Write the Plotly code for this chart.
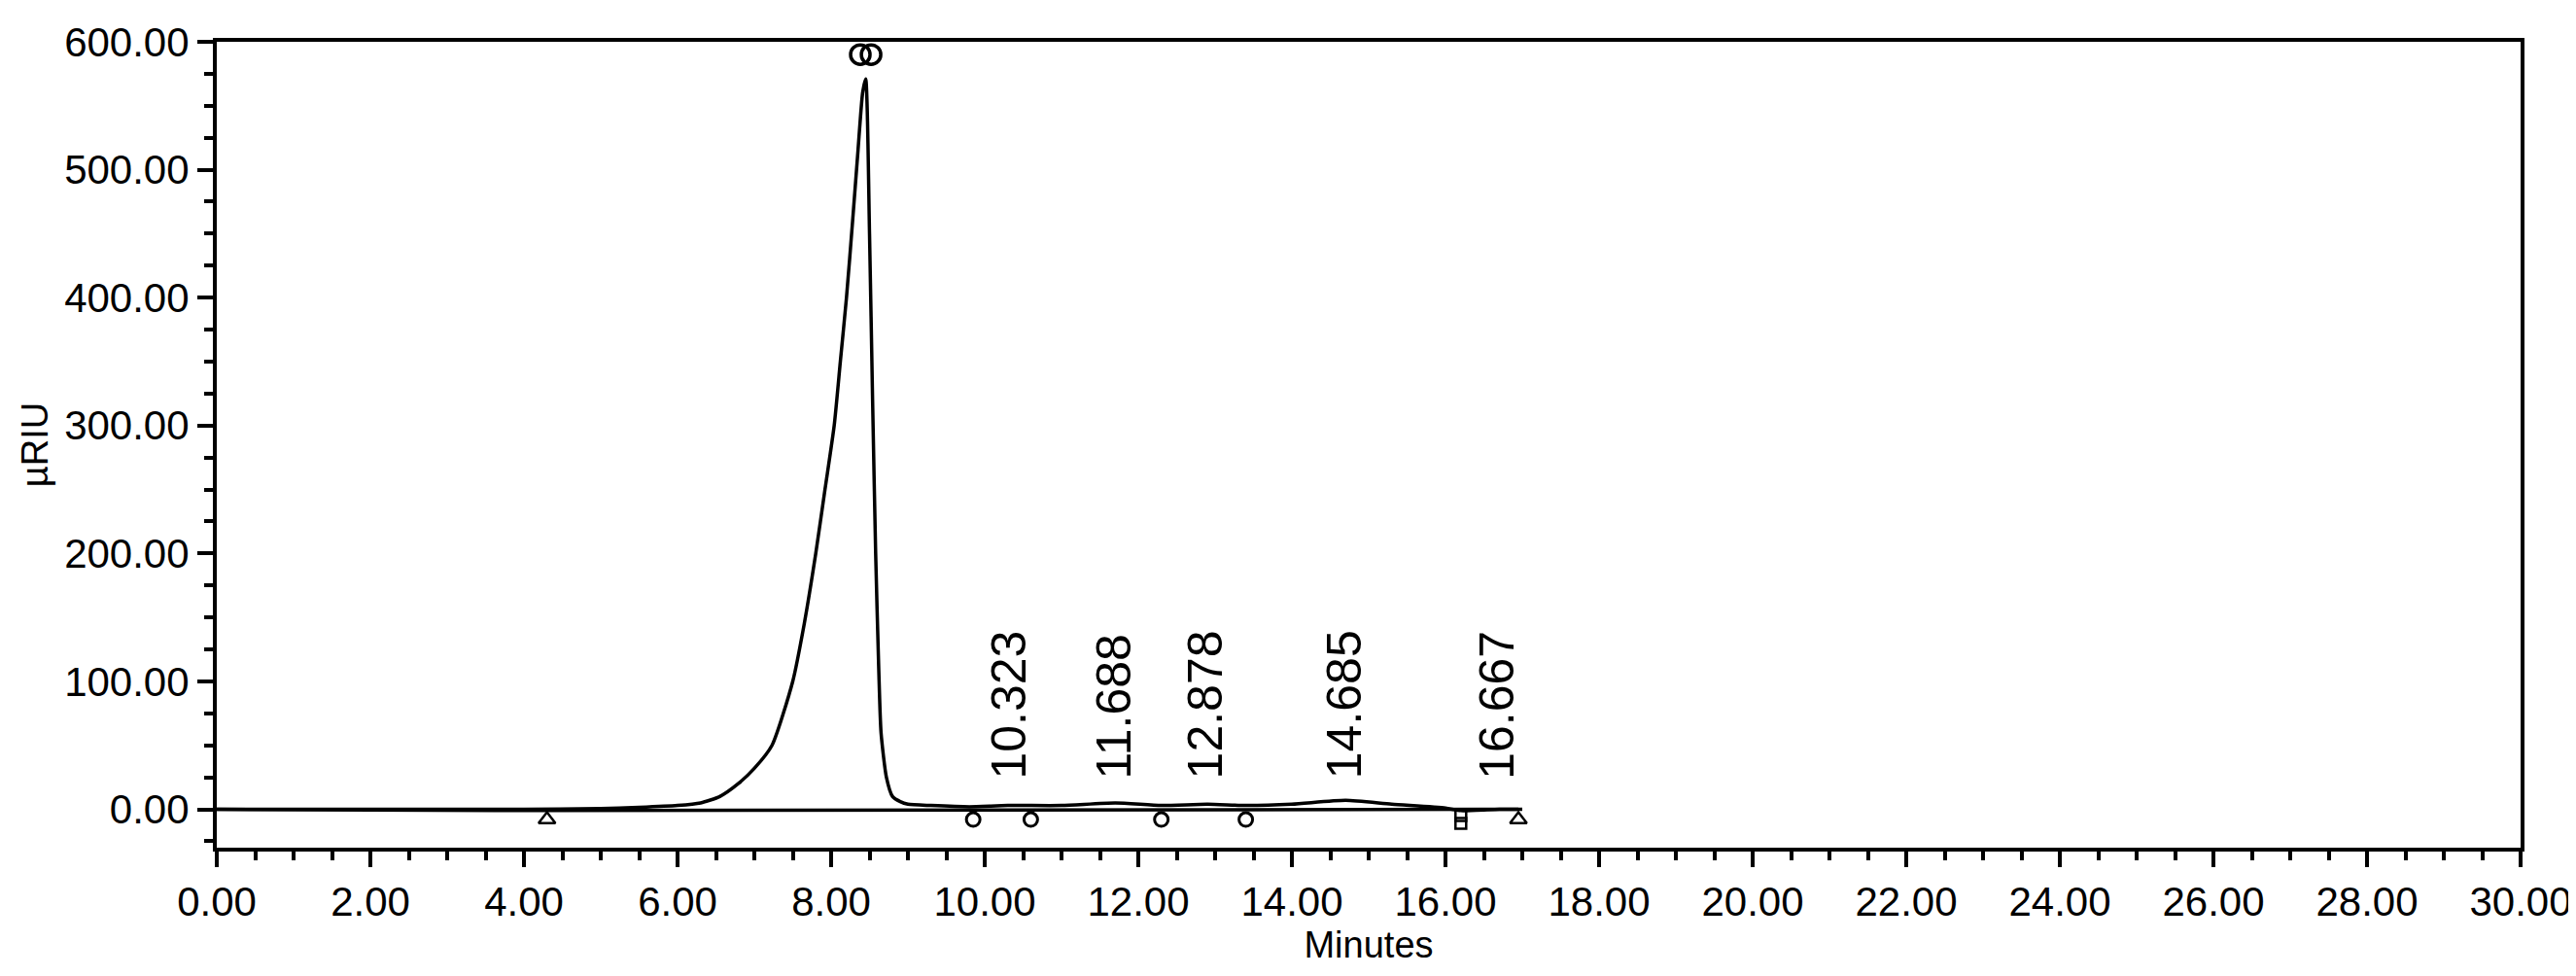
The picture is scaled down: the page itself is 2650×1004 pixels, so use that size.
import plotly.graph_objects as go

time_min = [0, 2, 4, 5.0, 5.5, 6.0, 6.3, 6.55, 6.79, 7.0, 7.23, 7.5, 7.65, 7.8, 7.92, 8.04, 8.12, 8.2, 8.28,
            8.35, 8.41, 8.45, 8.5, 8.54, 8.58, 8.62, 8.65, 8.72, 8.8, 8.9, 9.0, 9.3, 9.8, 10.3, 11.0, 11.7,
            12.3, 12.9, 13.4, 14.0, 14.7, 15.3, 16.0, 16.2, 16.7, 17.0]
signal = [0, 0, 0, 0.5, 1.5, 3, 5, 10, 20, 32, 50, 100, 145, 200, 250, 300, 350, 400, 460,
          515, 560, 571, 450, 320, 200, 110, 60, 25, 10, 6, 4, 3, 2, 3, 3, 5,
          3, 4, 3, 4, 7, 4, 1, -1, 0, 0]

base_x = [0, 4.3, 16.95]
base_y = [0, -1, 0]

peak_labels = ["10.323", "11.688", "12.878", "14.685", "16.667"]
peak_times = [10.323, 11.688, 12.878, 14.685, 16.667]
label_y = [22, 22, 22, 22, 22]

tri_x = [4.3, 16.95]; tri_y = [-8, -8]
apex_x = [8.38, 8.52]; apex_y = [590, 590]
mark_x = [9.85, 10.6, 12.3, 13.4]; mark_y = [-8, -8, -8, -8]
sq_x = [16.2, 16.2]; sq_y = [-5, -11]

fig = go.Figure()
fig.add_trace(go.Scatter(x=time_min, y=signal, mode="lines", line=dict(color="black", width=3.5, shape="spline", smoothing=0.6)))
fig.add_trace(go.Scatter(x=base_x, y=base_y, mode="lines", line=dict(color="black", width=3.5)))
fig.add_trace(go.Scatter(x=tri_x, y=tri_y, mode="markers",
                         marker=dict(symbol="triangle-up-open", size=15, color="black", line=dict(width=2.5))))
fig.add_trace(go.Scatter(x=apex_x, y=apex_y, mode="markers",
                         marker=dict(symbol="circle-open", size=20, color="black", line=dict(width=3.5))))
fig.add_trace(go.Scatter(x=mark_x, y=mark_y, mode="markers",
                         marker=dict(symbol="circle-open", size=14, color="black", line=dict(width=3))))
fig.add_trace(go.Scatter(x=sq_x, y=sq_y, mode="markers",
                         marker=dict(symbol="square-open", size=11, color="black", line=dict(width=2.5))))

for t, lab, yy in zip(peak_times, peak_labels, label_y):
    fig.add_annotation(x=t, y=yy, text=lab, textangle=-90, showarrow=False,
                       yanchor="bottom", xanchor="center", font=dict(size=50, color="black"))

axis_common = dict(showgrid=False, zeroline=False, showline=True, linecolor="black", linewidth=4,
                   mirror=True, ticks="outside", tickcolor="black", tickwidth=3.5, ticklen=16,
                   tickfont=dict(family="Liberation Sans, Arial", size=42, color="black"))
fig.update_xaxes(range=[0, 30], tickvals=list(range(0, 31, 2)),
                 ticktext=[f"{v:.2f}" for v in range(0, 31, 2)],
                 minor=dict(dtick=0.5, ticks="outside", ticklen=9, tickwidth=3.5, tickcolor="black"),
                 title=dict(text="Minutes", font=dict(size=38, color="black"), standoff=8),
                 **axis_common)
fig.update_yaxes(range=[-30, 600], tickvals=list(range(0, 601, 100)),
                 ticktext=[f"{v:.2f}" for v in range(0, 601, 100)],
                 minor=dict(dtick=25, ticks="outside", ticklen=9, tickwidth=3.5, tickcolor="black"),
                 title=dict(text="µRIU", font=dict(size=38, color="black"), standoff=6),
                 **axis_common)
fig.update_layout(width=2650, height=1004, showlegend=False, plot_bgcolor="white", paper_bgcolor="white",
                  margin=dict(l=215, r=56, t=30, b=140),
                  font=dict(family="Liberation Sans, Arial", color="black"))
fig.write_html("out.html")
